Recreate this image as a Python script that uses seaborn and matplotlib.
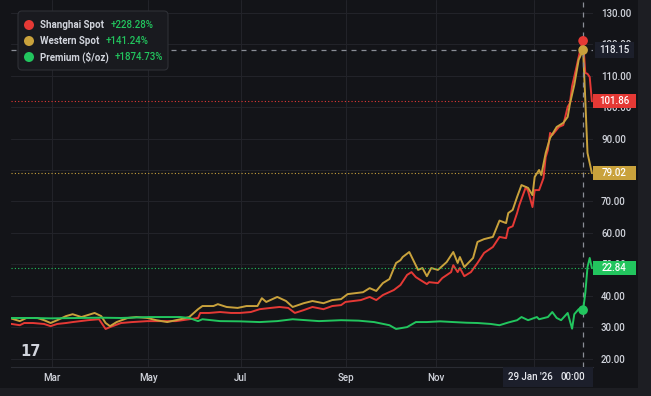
import numpy as np
import matplotlib
matplotlib.use("Agg")
import matplotlib.pyplot as plt
import matplotlib.transforms as mtransforms
from matplotlib.patches import Rectangle, FancyBboxPatch, Ellipse
import seaborn as sns

# ---------------- data (x = trading-session index) ----------------
shanghai_session = [0, 4, 6, 10, 15, 18, 21, 25, 28, 35, 40, 43, 45, 50, 55, 62, 68, 75, 81, 85,
                    86, 90, 95, 100, 104, 109, 113, 118, 122, 126, 129, 133, 137, 142, 146, 150,
                    152, 159, 163, 166, 169, 174, 177, 180, 182, 184, 186, 189, 190, 194, 196,
                    200, 201, 203, 204, 206, 209, 212, 215, 219, 222, 225, 226, 228, 230, 231,
                    234, 235, 237, 238, 240, 242, 243, 244, 245, 246, 249, 251, 253, 254, 255,
                    257, 258, 259, 260, 261, 262, 263, 264]
shanghai_price = [31.03, 30.6, 31.3, 31.3, 31.0, 30.3, 31.0, 31.3, 31.6, 32.2, 32.5, 29.4, 30.0,
                  31.3, 31.6, 31.9, 31.9, 31.9, 32.5, 32.9, 34.5, 34.5, 34.8, 34.5, 34.5, 34.8,
                  35.7, 36.1, 36.4, 36.1, 34.5, 35.4, 36.4, 35.7, 36.7, 37.0, 38.0, 38.6, 39.6,
                  38.6, 40.2, 41.8, 43.4, 46.6, 47.5, 45.9, 45.0, 43.7, 44.3, 44.0, 45.6, 47.5,
                  49.7, 47.5, 48.8, 46.2, 47.5, 50.4, 53.6, 55.5, 58.7, 58.3, 61.5, 62.1, 66.3,
                  68.8, 74.6, 73.3, 68.2, 73.6, 73.6, 77.4, 84.1, 86.4, 91.8, 91.1, 93.7, 94.3,
                  100.1, 101.3, 106.7, 112.8, 116.0, 119.0, 121.1, 110.9, 110.6, 109.6, 101.86]

western_session = [0, 4, 7, 12, 15, 18, 21, 25, 28, 32, 38, 41, 43, 45, 48, 53, 57, 62, 66, 71,
                   77, 81, 85, 87, 92, 94, 98, 103, 107, 112, 114, 116, 121, 125, 128, 133, 137,
                   142, 146, 150, 153, 160, 163, 166, 169, 172, 175, 177, 178, 181, 185, 187, 189,
                   191, 194, 195, 198, 201, 203, 204, 206, 210, 212, 215, 219, 222, 225, 226, 228,
                   230, 232, 235, 237, 238, 240, 241, 243, 245, 248, 251, 253, 254, 256, 258, 260,
                   261, 262, 263, 264]
western_price = [32.76, 31.9, 32.9, 32.9, 32.2, 31.3, 32.2, 33.5, 34.1, 33.2, 34.5, 33.5, 31.3,
                 30.3, 31.6, 32.9, 33.2, 32.9, 32.2, 31.6, 32.5, 33.2, 35.7, 36.7, 36.7, 37.3,
                 36.4, 36.1, 36.7, 36.7, 39.2, 38.0, 39.6, 38.3, 36.4, 37.6, 38.3, 37.6, 38.6,
                 38.9, 40.5, 41.1, 42.4, 41.5, 44.0, 45.3, 50.4, 51.3, 52.3, 53.9, 48.2, 48.8,
                 46.2, 48.8, 48.2, 48.8, 50.7, 53.9, 50.4, 52.3, 49.1, 52.0, 57.1, 58.0, 58.7,
                 63.9, 63.1, 66.3, 67.3, 71.4, 75.2, 74.3, 72.0, 77.8, 80.0, 78.4, 85.4, 90.2,
                 93.7, 95.0, 96.9, 101.0, 107.1, 115.1, 118.15, 102.3, 85.4, 82.2, 79.02]

premium_session = [0, 9, 18, 31, 40, 50, 63, 77, 81, 85, 87, 95, 104, 113, 121, 128, 140, 150,
                   158, 165, 172, 175, 180, 184, 189, 195, 201, 207, 212, 218, 222, 226, 230,
                   232, 235, 239, 240, 244, 246, 248, 250, 253, 254, 255, 256, 258, 260, 261,
                   262, 263, 264]
premium_usd = [1.157, 1.16, 1.0, 1.16, 1.3, 1.16, 1.57, 1.57, 1.16, -0.20, 0.61, -0.20, -0.3,
               -0.61, -0.2, 0.61, -0.20, 0.20, 0.0, -0.61, -1.98, -3.61, -2.80, -0.61, -0.61,
               -0.3, -0.61, -0.9, -1.02, -1.43, -1.98, -0.8, 0.20, 1.57, 0.20, 1.57, 0.61,
               1.57, 3.75, 1.16, 0.20, 3.34, -0.07, -3.48, 2.80, 4.98, 4.57, 11.93, 23.25,
               27.21, 22.84]

series_names = ["Shanghai Spot", "Western Spot", "Premium ($/oz)"]
series_changes = ["+228.28%", "+141.24%", "+1874.73%"]
price_ticks = [20, 30, 40, 50, 60, 70, 80, 90, 100, 110, 120, 130]
month_ticks = [18.6, 62.3, 104.5, 152.3, 193.2, 237.7]
month_labels = ["Mar", "May", "Jul", "Sep", "Nov", ""]
crosshair_session = 260
crosshair_date = "29 Jan '26"
crosshair_time = "00:00"

# premium overlay scale (main-axis units = offset + scale * $/oz)
PREMIUM_OFFSET = 32.05
PREMIUM_SCALE = 0.7333
Y_LOW, Y_HIGH = 17.3, 134.1
X_LOW, X_HIGH = 0, 264.5

# ---------------- style ----------------
BG = "#131418"
OUTER = "#1d1e23"
GRID = "#222329"
TEXT = "#d1d4dc"
RED = "#e53935"
GOLD = "#c9a23c"
GREEN = "#22c55e"
CROSS = "#8a8d96"
LABELBG = "#1c1f2b"

sns.set_style("dark")
plt.rcParams["font.family"] = ["Roboto", "DejaVu Sans"]

W, H = 651, 396
fig = plt.figure(figsize=(W / 100, H / 100), dpi=100, facecolor=OUTER)
PX = mtransforms.Affine2D().scale(1 / W, -1 / H).translate(0, 1) + fig.transFigure

fig.add_artist(Rectangle((0, 0), 638, 388, transform=PX, fc=BG, ec="none", zorder=-10))

AX_L, AX_T, AX_R, AX_B = 11, 0, 593, 367
ax = fig.add_axes([AX_L / W, 1 - AX_B / H, (AX_R - AX_L) / W, (AX_B - AX_T) / H])
ax.set_facecolor(BG)

sns.lineplot(x=shanghai_session, y=shanghai_price, ax=ax, color=RED, linewidth=1.4, zorder=3)
sns.lineplot(x=western_session, y=western_price, ax=ax, color=GOLD, linewidth=1.4, zorder=4)

ax2 = ax.twinx()
sns.lineplot(x=premium_session, y=premium_usd, ax=ax2, color=GREEN, linewidth=1.4, zorder=4)

ax.set_xlim(X_LOW, X_HIGH)
ax.set_ylim(Y_LOW, Y_HIGH)
ax2.set_ylim((Y_LOW - PREMIUM_OFFSET) / PREMIUM_SCALE, (Y_HIGH - PREMIUM_OFFSET) / PREMIUM_SCALE)

ax.yaxis.tick_right()
ax.set_yticks(price_ticks)
ax.set_yticklabels([f"{t:.2f}" for t in price_ticks], fontweight="medium")
ax.set_xticks(month_ticks)
ax.set_xticklabels(month_labels, fontweight="medium")
ax.tick_params(axis="both", length=0, labelsize=7, labelcolor=TEXT)
ax.tick_params(axis="y", pad=5.8)
ax.tick_params(axis="x", pad=4.5)
ax.grid(True, color=GRID, linewidth=0.8)
ax.set_xlabel("")
ax.set_ylabel("")
for sp in ax.spines.values():
    sp.set_visible(False)
ax.spines["bottom"].set_visible(True)
ax.spines["bottom"].set_color("#2a2c33")
ax.spines["bottom"].set_linewidth(0.8)

ax2.set_yticks([])
ax2.set_ylabel("")
ax2.grid(False)
for sp in ax2.spines.values():
    sp.set_visible(False)

# last-value dotted lines
dot_ls = (0, (1, 2))
ax.axhline(shanghai_price[-1], color=RED, ls=dot_ls, lw=0.8, zorder=2)
ax.axhline(western_price[-1], color=GOLD, ls=dot_ls, lw=0.8, zorder=2)
ax2.axhline(premium_usd[-1], color=GREEN, ls=dot_ls, lw=0.8, zorder=2)

# crosshair
cross_red = np.interp(crosshair_session, shanghai_session, shanghai_price)
cross_gold = np.interp(crosshair_session, western_session, western_price)
cross_green = np.interp(crosshair_session, premium_session, premium_usd)
ax.axvline(crosshair_session, color=CROSS, ls=(0, (4, 4)), lw=0.9, zorder=5)
ax.axhline(cross_gold, color=CROSS, ls=(0, (4, 4)), lw=0.9, zorder=5)
ax.scatter([crosshair_session], [cross_red], s=48, color=RED, edgecolors="none", zorder=7)
ax.scatter([crosshair_session], [cross_gold], s=48, color=GOLD, edgecolors="none", zorder=8)
ax2.scatter([crosshair_session], [cross_green], s=48, color=GREEN, edgecolors="none", zorder=8)

AX_H_PX = AX_B - AX_T
AX_W_PX = AX_R - AX_L


def price_tag(axis, value, text, fc, tc="white", h_px=14, x0_px=0, w_px=43):
    trans = mtransforms.blended_transform_factory(axis.transAxes, axis.transData)
    lo, hi = axis.get_ylim()
    per_px = (hi - lo) / AX_H_PX
    axis.add_patch(Rectangle((1 + x0_px / AX_W_PX, value - h_px / 2 * per_px), w_px / AX_W_PX,
                             h_px * per_px, transform=trans, fc=fc, ec="none",
                             clip_on=False, zorder=20))
    axis.text(1 + (x0_px + w_px / 2) / AX_W_PX, value, text, transform=trans, ha="center",
              va="center", color=tc, fontsize=7, fontweight="medium", zorder=21, clip_on=False)


price_tag(ax, shanghai_price[-1], f"{shanghai_price[-1]:.2f}", RED)
price_tag(ax, western_price[-1], f"{western_price[-1]:.2f}", GOLD)
price_tag(ax2, premium_usd[-1], f"{premium_usd[-1]:.2f}", GREEN)
price_tag(ax, cross_gold, f"{cross_gold:.2f}", LABELBG, tc="#e8eaf0", h_px=16, x0_px=2, w_px=39)

# crosshair time label
fig.add_artist(Rectangle((503, 367), 90, 20, transform=PX, fc=LABELBG, ec="none", zorder=5))
fig.text(530, 377.5, crosshair_date, transform=PX, ha="center", va="center", color="#e8eaf0",
         fontsize=7, fontweight="medium", zorder=6)
fig.text(573, 377.5, crosshair_time, transform=PX, ha="center", va="center", color="#e8eaf0",
         fontsize=7, fontweight="medium", zorder=6)

# legend
fig.add_artist(FancyBboxPatch((18, 11), 150, 59, boxstyle="round,pad=0,rounding_size=4",
                              transform=PX, fc="#191a1f", ec="#2e3036", lw=0.8, zorder=5))
legend_colors = [RED, GOLD, GREEN]
legend_y = [25, 41, 57]
change_x = [111, 106, 115]
for name, chg, col, yy, cx in zip(series_names, series_changes, legend_colors, legend_y, change_x):
    fig.add_artist(Ellipse((29, yy), 10, 10, transform=PX, fc=col, ec="none", zorder=6))
    fig.text(40, yy, name, transform=PX, ha="left", va="center", color=TEXT, fontsize=7,
             fontweight="bold", zorder=6)
    fig.text(cx, yy, chg, transform=PX, ha="left", va="center", color=GREEN, fontsize=7,
             fontweight="medium", zorder=6)

# logo mark
fig.text(20, 351, "17", transform=PX, ha="left", va="center", color=TEXT, fontsize=10.5,
         fontweight="heavy", family="DejaVu Sans", zorder=6)

fig.savefig("out.png", dpi=100, facecolor=OUTER)
